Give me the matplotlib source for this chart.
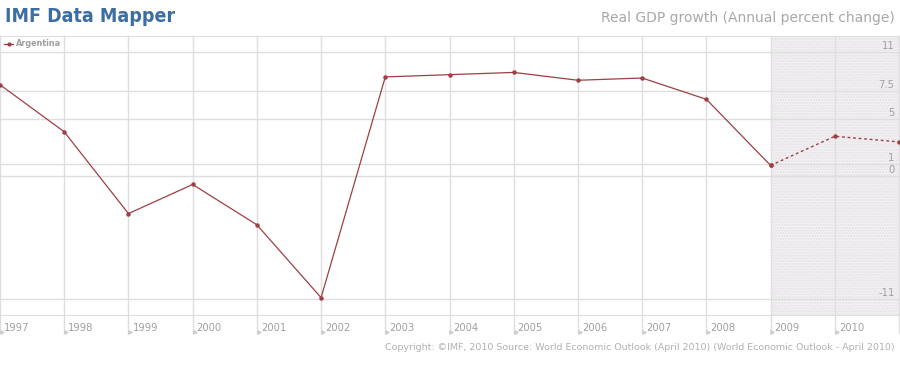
import matplotlib
matplotlib.use("Agg")
import matplotlib.pyplot as plt
from matplotlib.transforms import blended_transform_factory, offset_copy

# data
years = [1997, 1998, 1999, 2000, 2001, 2002, 2003, 2004, 2005, 2006, 2007, 2008, 2009, 2010, 2011]
gdp_growth = [8.1, 3.9, -3.4, -0.8, -4.4, -10.9, 8.8, 9.0, 9.2, 8.5, 8.7, 6.8, 0.9, 3.5, 3.0]
forecast_start = 2009
y_ticks = [11, 7.5, 5, 1, 0, -11]
y_tick_labels = ["11", "7.5", "5", "1", "0", "-11"]
year_labels = ["1997", "1998", "1999", "2000", "2001", "2002", "2003",
               "2004", "2005", "2006", "2007", "2008", "2009", "2010"]

narrow = ["DejaVu Sans"]
grey = "#a0a0a0"
line_col = "#9e3f45"
grid_col = "#dedede"

fig = plt.figure(figsize=(9, 3.68), dpi=100)
ax = fig.add_axes([0, 53 / 368, 899 / 900, 279 / 368])

ax.set_xlim(years[0], years[-1])
ax.set_ylim(-12.45, 12.45)

# forecast area
ax.axvspan(forecast_start, years[-1], facecolor="#f3f1f3", edgecolor="#e4e1e4",
           hatch="......", linewidth=0, zorder=0)

# grid
for t in y_ticks:
    ax.axhline(t, color=grid_col, lw=1, zorder=1)
trans = blended_transform_factory(ax.transData, ax.transAxes)
for yr in years:
    ax.plot([yr, yr], [-0.065, 1], color=grid_col, lw=1, transform=trans,
            clip_on=False, zorder=1)

for s in ax.spines.values():
    s.set_visible(False)
for side in ["top", "bottom"]:
    ax.spines[side].set_visible(True)
    ax.spines[side].set_color(grid_col)
ax.set_xticks([])
ax.set_yticks([])

# series: actual solid, forecast dotted
i0 = years.index(forecast_start)
ax.plot(years[:i0 + 1], gdp_growth[:i0 + 1], color=line_col, lw=0.9,
        marker="o", ms=2.2, zorder=3)
ax.plot(years[i0:], gdp_growth[i0:], color=line_col, lw=1, ls=(0, (2, 2)),
        marker="o", ms=2.2, zorder=3)

# y labels on the right, just above each line
ytrans = blended_transform_factory(ax.transAxes, ax.transData)
for t, lab in zip(y_ticks, y_tick_labels):
    ax.text(0.995, t, lab, transform=offset_copy(ytrans, fig=fig, y=1, units="dots"),
            ha="right", va="bottom", fontsize=8, color=grey, family=narrow,
            fontstretch="condensed")

# year labels under the axis
lab_trans = offset_copy(trans, fig=fig, x=4, units="dots")
for yr, lab in zip(years, year_labels):
    ax.text(yr, -0.03, lab, transform=lab_trans,
            ha="left", va="top", fontsize=8, color=grey, family=narrow,
            fontstretch="condensed")
    ax.plot(yr + 0.03, -0.06, marker=">", ms=2.5, color="#cfcfcf",
            transform=trans, clip_on=False)

# legend
ax.plot([0.004, 0.015], [0.972, 0.972], transform=ax.transAxes, color=line_col,
        lw=0.9, clip_on=False)
ax.plot(0.0095, 0.972, transform=ax.transAxes, color=line_col, marker="o", ms=2)
ax.text(0.018, 0.972, "Argentina", transform=ax.transAxes, ha="left", va="center",
        fontsize=6.5, color=grey, family=narrow, fontweight="bold",
        fontstretch="condensed")

# headings
fig.text(0.006, 0.955, "IMF Data Mapper", ha="left", va="center", fontsize=14,
         color="#3d6ea3", family=narrow, fontweight="bold", fontstretch="condensed")
fig.text(0.994, 0.952, "Real GDP growth (Annual percent change)", ha="right",
         va="center", fontsize=10, color="#a8a8a8")
fig.text(0.994, 0.057,
         "Copyright: \u00a9IMF, 2010 Source: World Economic Outlook (April 2010) "
         "(World Economic Outlook - April 2010)",
         ha="right", va="center", fontsize=6.8, color="#b0b0b0")

fig.savefig("out.png", dpi=100)
